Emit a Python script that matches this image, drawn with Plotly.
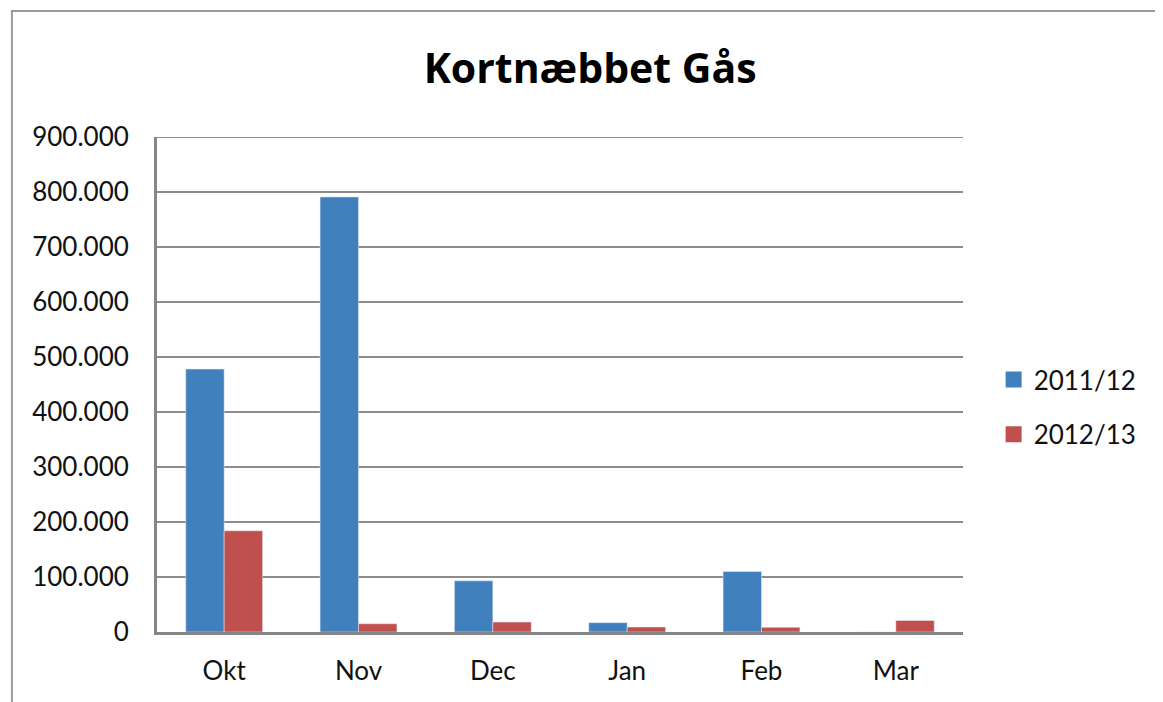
import plotly.graph_objects as go

months = ["Okt", "Nov", "Dec", "Jan", "Feb", "Mar"]
season_2011_12 = [478000, 791000, 93000, 17000, 110000, 0]
season_2012_13 = [184000, 15000, 18000, 9000, 8500, 21000]
y_ticks = [0, 100000, 200000, 300000, 400000, 500000, 600000, 700000, 800000, 900000]

FONT = "Lato, Open Sans, sans-serif"
GRID = "#8c8c8c"
BLUE = "#4080bd"
RED = "#c0504d"

fig = go.Figure()

fig.add_trace(
    go.Bar(x=months, y=season_2011_12, name="2011/12", marker=dict(color=BLUE), showlegend=False)
)
fig.add_trace(
    go.Bar(x=months, y=season_2012_13, name="2012/13", marker=dict(color=RED), showlegend=False)
)

# legend entries with bigger square swatches than the bar default
for name, color in [("2011/12", BLUE), ("2012/13", RED)]:
    fig.add_trace(
        go.Scatter(
            x=[None],
            y=[None],
            mode="markers",
            name=name,
            legendgroup=name,
            marker=dict(symbol="square", size=18, color=color),
        )
    )

# outer chart frame, runs off the right and bottom of the picture
fig.add_shape(
    type="rect",
    xref="paper",
    yref="paper",
    x0=-0.18,
    x1=1.4,
    y0=-0.3,
    y1=1.2545,
    line=dict(color="#9a9a9a", width=2),
    layer="below",
)

# top gridline at 900.000
fig.add_shape(
    type="line",
    xref="paper",
    yref="y",
    x0=0,
    x1=1,
    y0=900000,
    y1=900000,
    line=dict(color=GRID, width=2),
    layer="below",
)

fig.update_layout(
    width=1155,
    height=694,
    margin=dict(l=149, r=200, t=129, b=70),
    paper_bgcolor="white",
    plot_bgcolor="white",
    barmode="group",
    bargap=0.428,
    bargroupgap=0,
    separators=",.",
    font=dict(family=FONT, size=26, color="#111111"),
    title=dict(
        text="<b>Kortnæbbet Gås</b>",
        font=dict(family="Open Sans, sans-serif", size=41, color="black"),
        xref="container",
        x=0.504,
        xanchor="center",
        yref="container",
        y=1 - 61 / 694,
        yanchor="middle",
    ),
    legend=dict(
        x=1.038,
        y=0.4545,
        xanchor="left",
        yanchor="middle",
        font=dict(size=26),
        itemwidth=30,
        tracegroupgap=18,
        traceorder="grouped",
    ),
    showlegend=True,
)

fig.update_xaxes(
    showline=True,
    linecolor="#868686",
    linewidth=3,
    ticks="",
    ticklabelstandoff=14,
    showgrid=False,
)
fig.update_yaxes(
    range=[0, 900000],
    tickvals=y_ticks,
    tickformat=",d",
    showline=True,
    linecolor="#868686",
    linewidth=3,
    showgrid=True,
    gridcolor=GRID,
    gridwidth=2,
    zeroline=False,
    ticks="",
    ticklabelstandoff=20,
)

fig.write_html("out.html")
